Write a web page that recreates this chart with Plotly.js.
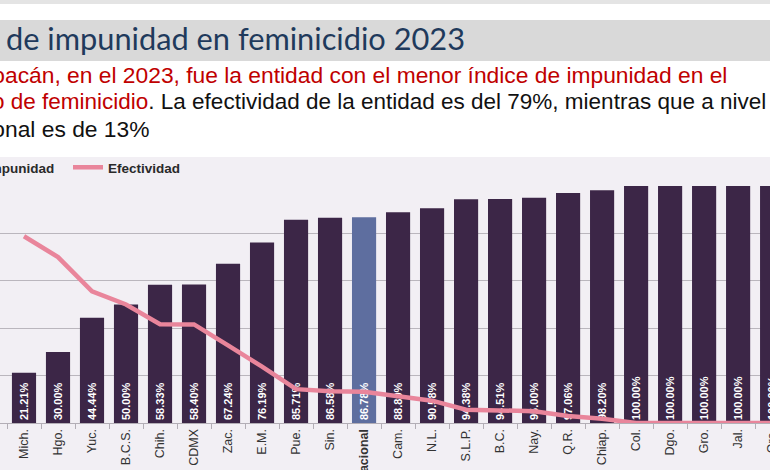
<!DOCTYPE html>
<html>
<head>
<meta charset="utf-8">
<script src="https://cdn.plot.ly/plotly-3.0.1.min.js"></script>
<style>
html,body{margin:0;padding:0;width:770px;height:470px;overflow:hidden;background:#fff;}
body{position:relative;}
#topstrip{position:absolute;left:0;top:0;width:770px;height:4px;background:#e4e4e4;}
#band{position:absolute;left:0;top:20px;width:770px;height:41px;background:#d9d9d9;}
.line{position:absolute;white-space:pre;line-height:1;z-index:2;}
.pre{position:absolute;right:100%;top:0;white-space:pre;}
#title{left:6px;top:24px;font-family:Lato,"Open Sans",sans-serif;font-size:28px;color:#1f3a5c;}
.para{font-family:"Liberation Sans",Arial,sans-serif;font-size:21px;color:#111;}
.red{color:#c00000;}
#chart{position:absolute;left:-100px;top:140px;width:930px;height:360px;z-index:1;}
</style>
</head>
<body>
<div id="topstrip"></div>
<div id="band"></div>
<div id="chart"></div>
<div id="title" class="line"><span class="pre">Índice </span>de impunidad en feminicidio 2023</div>
<div id="p1" class="line para" style="left:5px;top:63.5px"><span class="pre red">Micho</span><span class="red">acán, en el 2023, fue la entidad con el menor índice de impunidad en el</span></div>
<div id="p2" class="line para" style="left:4.5px;top:90.5px"><span class="pre red">delito</span><span class="red"> de feminicidio</span>. La efectividad de la entidad es del 79%, mientras que a nivel</div>
<div id="p3" class="line para" style="left:5px;top:117.5px"><span class="pre">nacio</span>nal es de 13%</div>
<script>
const categories = ['Mich.','Hgo.','Yuc.','B.C.S.','Chih.','CDMX','Zac.','E.M.','Pue.','Sin.','Nacional','Cam.','N.L.','S.L.P.','B.C.','Nay.','Q.R.','Chiap.','Col.','Dgo.','Gro.','Jal.','Qro.'];
const impunidad = [21.21,30.00,44.44,50.00,58.33,58.40,67.24,76.19,85.71,86.58,86.78,88.89,90.58,94.38,94.51,95.00,97.06,98.20,100.00,100.00,100.00,100.00,100.00];
const efectividad = [78.79,70.00,55.56,50.00,41.67,41.60,32.76,23.81,14.29,13.42,13.22,11.11,9.42,5.62,5.49,5.00,2.94,1.80,0,0,0,0,0];
const highlight = 'Nacional';

function fit(el, target){
  const w = el.getBoundingClientRect().width;
  const fs = parseFloat(getComputedStyle(el).fontSize);
  const nfs = fs*target/w;
  el.style.fontSize = nfs + 'px';
  return nfs;
}
function layoutText(){
  fit(document.getElementById('title'), 459);
  fit(document.getElementById('p1'), 722);
  fit(document.getElementById('p2'), 762);
  const fs = parseFloat(document.getElementById('p1').style.fontSize);
  document.getElementById('p3').style.fontSize = fs+'px';
}

const barColors = categories.map(c => c === highlight ? '#5e6e9f' : '#3c2647');
const tickText = categories.map(c => c === highlight ? '<b>'+c+'</b>' : c);

const W = 930, H = 360, T = 46, PH = 236.7;
const traces = [
  {type:'bar', x:categories, y:impunidad, name:'Impunidad',
   marker:{color:barColors},
   texttemplate:'%{y:.2f}%', textposition:'inside', insidetextanchor:'start', textangle:-90,
   constraintext:'none',
   textfont:{family:'Liberation Sans, Arial, sans-serif', size:11, color:'#ffffff', weight:'bold'},
   hoverinfo:'skip'},
  {type:'scatter', mode:'lines', x:categories, y:efectividad, name:'Efectividad',
   line:{color:'#e9859b', width:4.5}, hoverinfo:'skip'}
];
const layout = {
  width:W, height:H,
  margin:{l:80, r:30, t:T, b:H-T-PH, pad:0},
  paper_bgcolor:'rgba(0,0,0,0)', plot_bgcolor:'rgba(0,0,0,0)',
  bargap:0.29,
  showlegend:true,
  legend:{orientation:'h', xref:'container', yref:'container', x:46/W, y:1-12/H, xanchor:'left', yanchor:'top',
          entrywidth:77, entrywidthmode:'pixels',
          font:{family:'Liberation Sans, Arial, sans-serif', size:13.5, color:'#2a2a2a', weight:'bold'},
          bgcolor:'rgba(0,0,0,0)', traceorder:'normal'},
  shapes:[{type:'rect', xref:'paper', yref:'paper', x0:-0.3, x1:1.3, y0:-0.6, y1:1 + (T-17)/PH,
           fillcolor:'#f2eff4', line:{width:0}, layer:'below'}],
  xaxis:{type:'category', range:[-1.294, 22.82], tickangle:-90, ticks:'outside', tickson:'boundaries',
         tickmode:'array', tickvals:categories, ticktext:tickText,
         ticklen:5, tickcolor:'#b3aeb6', showline:true, linecolor:'#b3aeb6', linewidth:1,
         tickfont:{family:'Liberation Sans, Arial, sans-serif', size:12.5, color:'#333'}, showgrid:false, fixedrange:true},
  yaxis:{range:[0,100], dtick:20, showgrid:true, gridcolor:'#bab6bd', gridwidth:1, showticklabels:false,
         zeroline:false, ticks:'', fixedrange:true},
  hovermode:false
};
(document.fonts ? document.fonts.ready : Promise.resolve()).then(layoutText);
layoutText();
Plotly.newPlot('chart', traces, layout, {staticPlot:true, displayModeBar:false});
</script>
</body>
</html>
